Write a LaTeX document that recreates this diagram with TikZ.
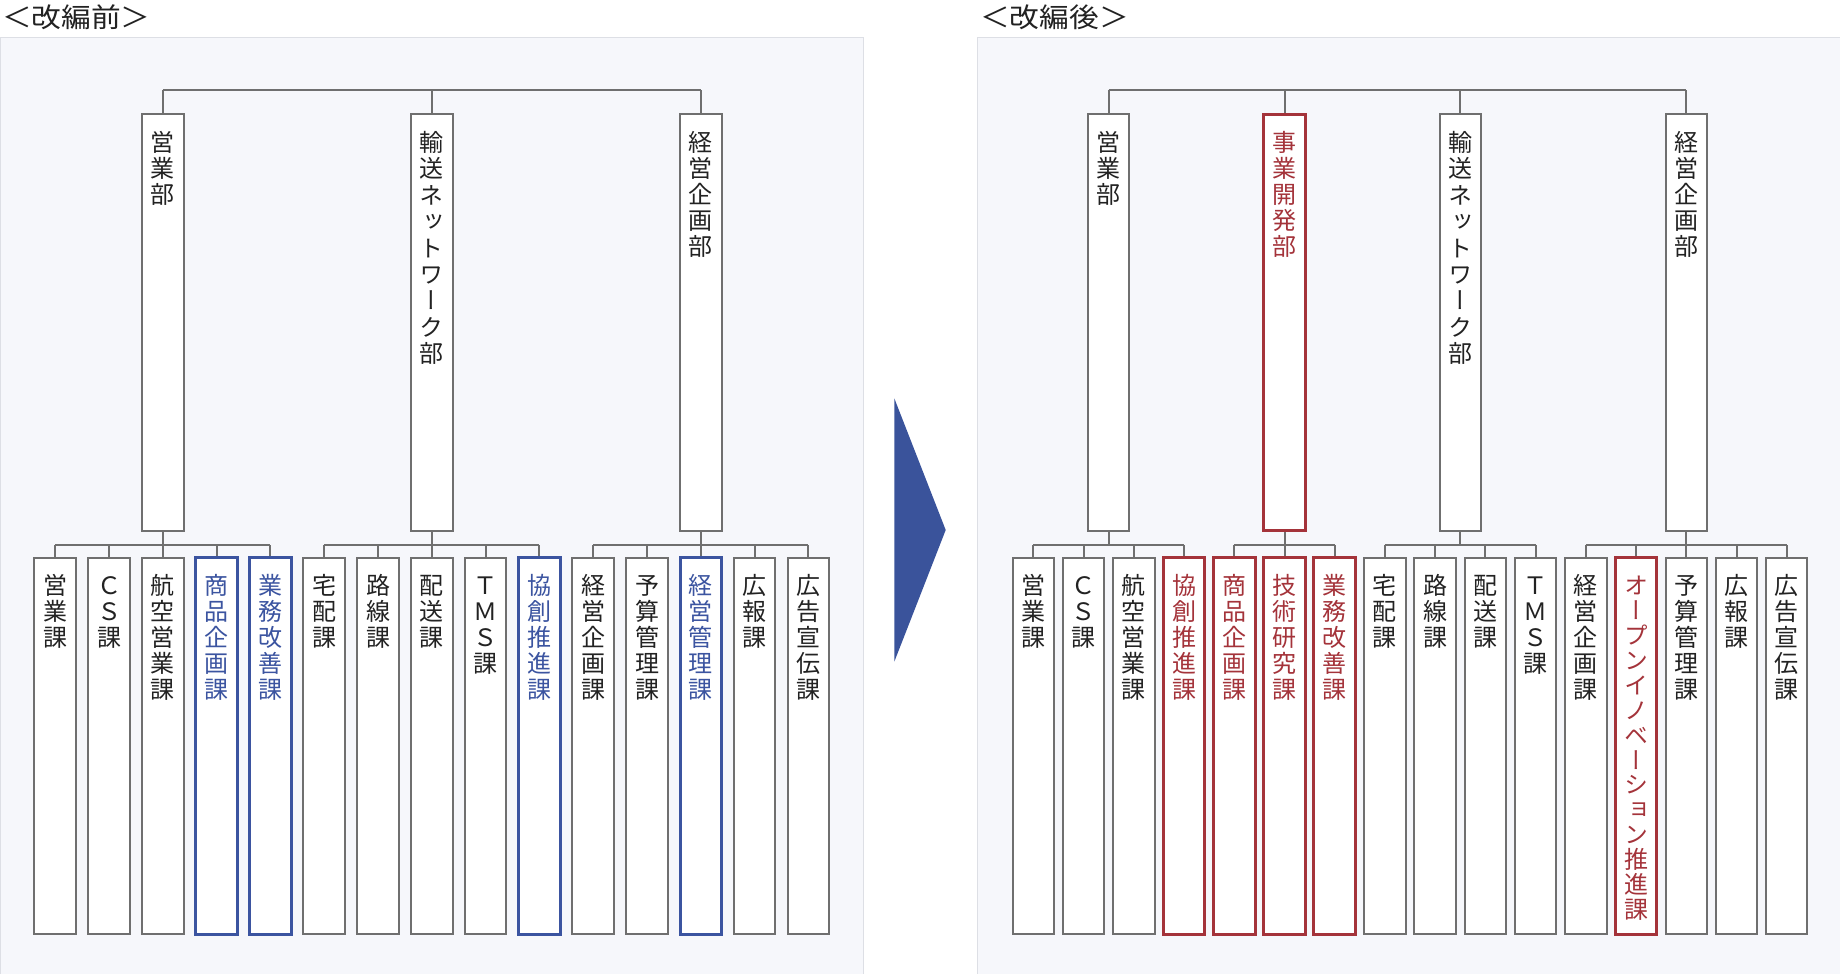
\documentclass[tikz,border=0pt]{standalone}
\usepackage{fontspec}
\setmainfont{Noto Sans CJK JP}
\newfontfamily\vjp[RawFeature=+vert]{Noto Sans CJK JP}
\definecolor{linegray}{HTML}{6F6F6F}
\definecolor{textdark}{HTML}{222222}
\definecolor{hblue}{HTML}{3B54A0}
\definecolor{hred}{HTML}{A4333A}
\definecolor{panelbg}{HTML}{F6F7FB}
\definecolor{panelborder}{HTML}{DDDFE5}
\definecolor{arrowblue}{HTML}{3A539B}
% vertical text: [line pitch] height, text
\newcommand\vt[3][26pt]{\parbox[c][#2][t]{41.5pt}{\centering\fontsize{24pt}{#1}\selectfont\vspace*{17pt}\rule{0pt}{20pt}#3\par}}
\tikzset{
  box/.style={draw=linegray, line width=2pt, fill=white, inner sep=0pt, text=textdark, font=\vjp},
  hlblue/.style={box, draw=hblue, line width=3pt, text=hblue},
  hlred/.style={box, draw=hred, line width=3pt, text=hred},
  conn/.style={draw=linegray, line width=2pt},
  panel/.style={fill=panelbg, draw=panelborder, line width=1.2pt},
  titletext/.style={inner sep=0pt, text=textdark, font=\fontsize{27pt}{30pt}\selectfont},
}
\begin{document}
\begin{tikzpicture}[x=1pt,y=-1pt]
\useasboundingbox[fill=white] (0,0) rectangle (1840,974);
\filldraw[panel] (0.6,37.3) rectangle (863.3,985);
\filldraw[panel] (977.3,37.3) rectangle (1850,985);

\node[titletext, anchor=base west] (t1) at (2,28) {\scalebox{1.1}[1]{＜改編前＞}};
\node[titletext, anchor=base west] (t2) at (980,28) {\scalebox{1.1}[1]{＜改編後＞}};

\fill[arrowblue] (894.3,398.3) -- (945.7,530) -- (894.3,661.7) -- cycle;

\coordinate (topbus) at (0,90);
\coordinate (cbus) at (0,545);

% ---------------- left: before ----------------
\node[box] (LP1) at (162.8,322.5) {\vt{416.4pt}{営\\業\\部}};
\node[box] (LP2) at (431.8,322.5) {\vt[26.4pt]{416.4pt}{輸\\送\\ネ\\ッ\\ト\\ワ\\ー\\ク\\部}};
\node[box] (LP3) at (700.8,322.5) {\vt{416.4pt}{経\\営\\企\\画\\部}};

\node[box]    (L1)  at (55.2,745.85)  {\vt{376.3pt}{営\\業\\課}};
\node[box]    (L2)  at (109.0,745.85) {\vt{376.3pt}{Ｃ\\Ｓ\\課}};
\node[box]    (L3)  at (162.8,745.85) {\vt{376.3pt}{航\\空\\営\\業\\課}};
\node[hlblue] (L4)  at (216.6,745.85) {\vt{376.3pt}{商\\品\\企\\画\\課}};
\node[hlblue] (L5)  at (270.4,745.85) {\vt{376.3pt}{業\\務\\改\\善\\課}};
\node[box]    (L6)  at (324.2,745.85) {\vt{376.3pt}{宅\\配\\課}};
\node[box]    (L7)  at (378.0,745.85) {\vt{376.3pt}{路\\線\\課}};
\node[box]    (L8)  at (431.8,745.85) {\vt{376.3pt}{配\\送\\課}};
\node[box]    (L9)  at (485.6,745.85) {\vt{376.3pt}{Ｔ\\Ｍ\\Ｓ\\課}};
\node[hlblue] (L10) at (539.4,745.85) {\vt{376.3pt}{協\\創\\推\\進\\課}};
\node[box]    (L11) at (593.2,745.85) {\vt{376.3pt}{経\\営\\企\\画\\課}};
\node[box]    (L12) at (647.0,745.85) {\vt{376.3pt}{予\\算\\管\\理\\課}};
\node[hlblue] (L13) at (700.8,745.85) {\vt{376.3pt}{経\\営\\管\\理\\課}};
\node[box]    (L14) at (754.6,745.85) {\vt{376.3pt}{広\\報\\課}};
\node[box]    (L15) at (808.4,745.85) {\vt{376.3pt}{広\\告\\宣\\伝\\課}};

\draw[conn] (LP1.north |- topbus) -- (LP3.north |- topbus);
\foreach \p in {LP1,LP2,LP3} \draw[conn] (\p.north) -- (\p.north |- topbus);

\draw[conn] (L1.north |- cbus) -- (L5.north |- cbus);
\draw[conn] (L6.north |- cbus) -- (L10.north |- cbus);
\draw[conn] (L11.north |- cbus) -- (L15.north |- cbus);
\foreach \p in {LP1,LP2,LP3} \draw[conn] (\p.south) -- (\p.south |- cbus);
\foreach \c in {L1,L2,L3,L4,L5,L6,L7,L8,L9,L10,L11,L12,L13,L14,L15}
  \draw[conn] (\c.north) -- (\c.north |- cbus);

% ---------------- right: after ----------------
\node[box]   (RP1) at (1108.7,322.5) {\vt{416.4pt}{営\\業\\部}};
\node[hlred] (RP2) at (1284.5,322.5) {\vt{416.4pt}{事\\業\\開\\発\\部}};
\node[box]   (RP3) at (1460.3,322.5) {\vt[26.4pt]{416.4pt}{輸\\送\\ネ\\ッ\\ト\\ワ\\ー\\ク\\部}};
\node[box]   (RP4) at (1686.3,322.5) {\vt{416.4pt}{経\\営\\企\\画\\部}};

\node[box]   (R1)  at (1033.4,745.85) {\vt{376.3pt}{営\\業\\課}};
\node[box]   (R2)  at (1083.6,745.85) {\vt{376.3pt}{Ｃ\\Ｓ\\課}};
\node[box]   (R3)  at (1133.8,745.85) {\vt{376.3pt}{航\\空\\営\\業\\課}};
\node[hlred] (R4)  at (1184.1,745.85) {\vt{376.3pt}{協\\創\\推\\進\\課}};
\node[hlred] (R5)  at (1234.3,745.85) {\vt{376.3pt}{商\\品\\企\\画\\課}};
\node[hlred] (R6)  at (1284.5,745.85) {\vt{376.3pt}{技\\術\\研\\究\\課}};
\node[hlred] (R7)  at (1334.7,745.85) {\vt{376.3pt}{業\\務\\改\\善\\課}};
\node[box]   (R8)  at (1384.9,745.85) {\vt{376.3pt}{宅\\配\\課}};
\node[box]   (R9)  at (1435.2,745.85) {\vt{376.3pt}{路\\線\\課}};
\node[box]   (R10) at (1485.4,745.85) {\vt{376.3pt}{配\\送\\課}};
\node[box]   (R11) at (1535.6,745.85) {\vt{376.3pt}{Ｔ\\Ｍ\\Ｓ\\課}};
\node[box]   (R12) at (1585.8,745.85) {\vt{376.3pt}{経\\営\\企\\画\\課}};
\node[hlred] (R13) at (1636.0,745.85) {\vt[24.9pt]{376.3pt}{オ\\ー\\プ\\ン\\イ\\ノ\\ベ\\ー\\シ\\ョ\\ン\\推\\進\\課}};
\node[box]   (R14) at (1686.3,745.85) {\vt{376.3pt}{予\\算\\管\\理\\課}};
\node[box]   (R15) at (1736.5,745.85) {\vt{376.3pt}{広\\報\\課}};
\node[box]   (R16) at (1786.7,745.85) {\vt{376.3pt}{広\\告\\宣\\伝\\課}};

\draw[conn] (RP1.north |- topbus) -- (RP4.north |- topbus);
\foreach \p in {RP1,RP2,RP3,RP4} \draw[conn] (\p.north) -- (\p.north |- topbus);

\draw[conn] (R1.north |- cbus) -- (R4.north |- cbus);
\draw[conn] (R5.north |- cbus) -- (R7.north |- cbus);
\draw[conn] (R8.north |- cbus) -- (R11.north |- cbus);
\draw[conn] (R12.north |- cbus) -- (R16.north |- cbus);
\foreach \p in {RP1,RP2,RP3,RP4} \draw[conn] (\p.south) -- (\p.south |- cbus);
\foreach \c in {R1,R2,R3,R4,R5,R6,R7,R8,R9,R10,R11,R12,R13,R14,R15,R16}
  \draw[conn] (\c.north) -- (\c.north |- cbus);
\end{tikzpicture}
\end{document}
